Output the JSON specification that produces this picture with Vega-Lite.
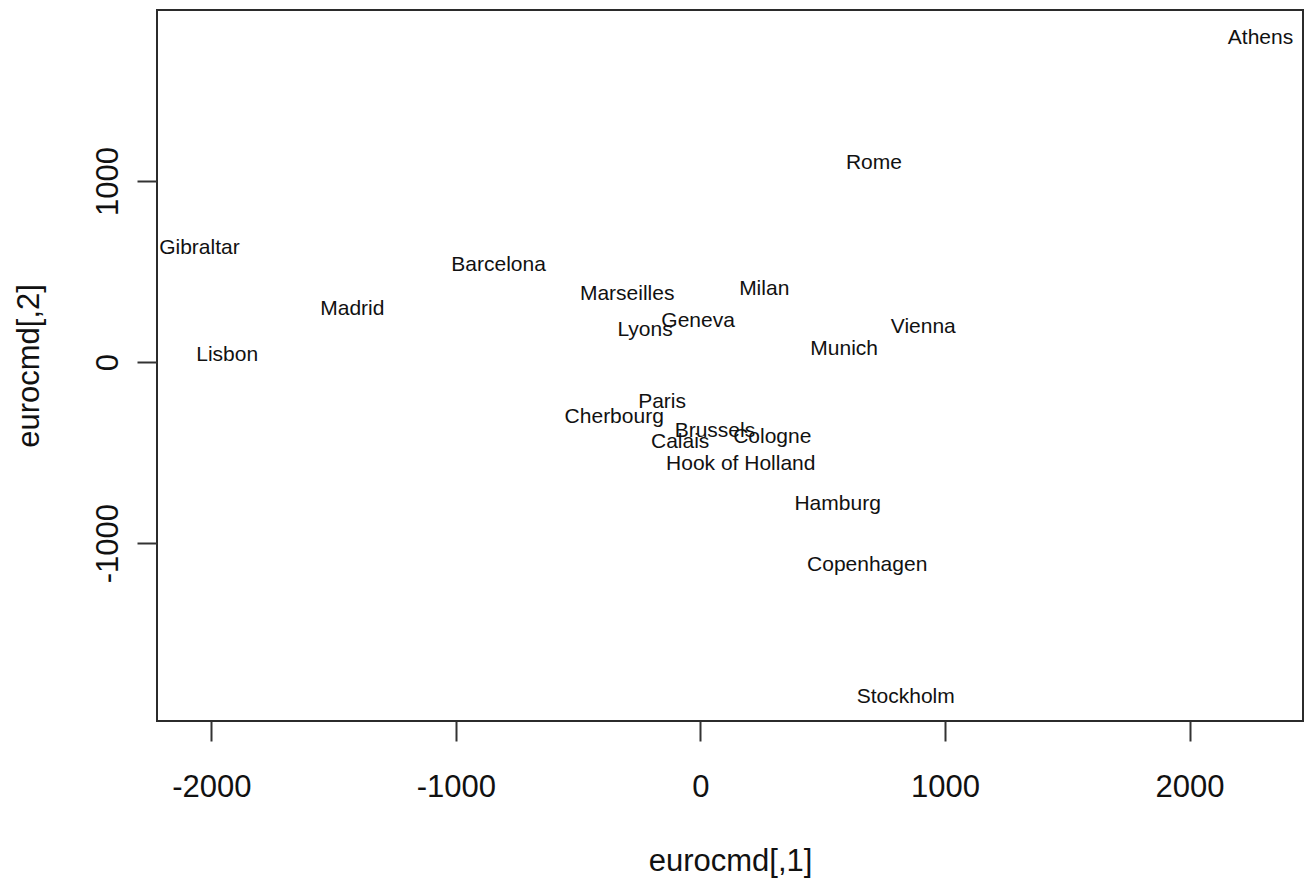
{
  "$schema": "https://vega.github.io/schema/vega-lite/v6.json",
  "autosize": "none",
  "width": 1146,
  "height": 711,
  "padding": {"left": 157, "top": 10, "right": 7, "bottom": 158},
  "background": "white",
  "config": {
    "view": {"stroke": "#2b2b2b", "strokeWidth": 2, "fill": "white"},
    "font": "Liberation Sans"
  },
  "data": {
    "values": [
      {"city": "Athens", "x": 2290.274680, "y": 1798.80293},
      {"city": "Barcelona", "x": -825.382790, "y": 546.81148},
      {"city": "Brussels", "x": 59.183341, "y": -367.08135},
      {"city": "Calais", "x": -82.845973, "y": -429.91466},
      {"city": "Cherbourg", "x": -352.499435, "y": -290.90843},
      {"city": "Cologne", "x": 293.689633, "y": -405.31194},
      {"city": "Copenhagen", "x": 681.931545, "y": -1108.64478},
      {"city": "Geneva", "x": -9.423364, "y": 240.40600},
      {"city": "Gibraltar", "x": -2048.449113, "y": 642.45854},
      {"city": "Hamburg", "x": 561.108970, "y": -773.36929},
      {"city": "Hook of Holland", "x": 164.921799, "y": -549.36704},
      {"city": "Lisbon", "x": -1935.040811, "y": 49.12514},
      {"city": "Lyons", "x": -226.423236, "y": 187.08779},
      {"city": "Madrid", "x": -1423.353697, "y": 305.87513},
      {"city": "Marseilles", "x": -299.498710, "y": 388.80726},
      {"city": "Milan", "x": 260.878046, "y": 416.67381},
      {"city": "Munich", "x": 587.675679, "y": 81.18224},
      {"city": "Paris", "x": -156.836257, "y": -211.13911},
      {"city": "Rome", "x": 709.413282, "y": 1109.36665},
      {"city": "Stockholm", "x": 839.445911, "y": -1836.79055},
      {"city": "Vienna", "x": 911.230500, "y": 205.93020}
    ]
  },
  "mark": {"type": "text", "align": "center", "baseline": "middle", "dy": 2, "fontSize": 21, "font": "Liberation Sans", "color": "#111111"},
  "encoding": {
    "x": {
      "field": "x", "type": "quantitative",
      "scale": {"domain": [-2222.0, 2463.9], "nice": false, "zero": false},
      "axis": {
        "values": [-2000, -1000, 0, 1000, 2000],
        "labelExpr": "'' + datum.value",
        "title": "eurocmd[,1]",
        "grid": false, "domain": false,
        "tickSize": 20, "tickWidth": 2, "tickColor": "#333333",
        "labelFont": "Liberation Sans", "labelFontSize": 31, "labelColor": "#111111",
        "labelBaseline": "alphabetic", "labelPadding": 55, "labelFlush": false, "labelOverlap": false,
        "titleFont": "Liberation Sans", "titleFontSize": 31, "titleFontWeight": "normal", "titleColor": "#111111",
        "titleX": 573, "titleY": 149, "titleBaseline": "alphabetic", "titleAlign": "center"
      }
    },
    "y": {
      "field": "y", "type": "quantitative",
      "scale": {"domain": [-1982.2, 1944.2], "nice": false, "zero": false},
      "axis": {
        "values": [-1000, 0, 1000],
        "labelExpr": "'' + datum.value",
        "title": "eurocmd[,2]",
        "grid": false, "domain": false,
        "tickSize": 20, "tickWidth": 2, "tickColor": "#333333",
        "labelFont": "Liberation Sans", "labelFontSize": 31, "labelColor": "#111111",
        "labelAngle": -90, "labelAlign": "center", "labelBaseline": "alphabetic", "labelPadding": 20,
        "labelFlush": false, "labelOverlap": false,
        "titleFont": "Liberation Sans", "titleFontSize": 31, "titleFontWeight": "normal", "titleColor": "#111111",
        "titleAngle": -90, "titleX": -119, "titleY": 355.5, "titleBaseline": "alphabetic", "titleAlign": "center"
      }
    },
    "text": {"field": "city", "type": "nominal"}
  }
}
